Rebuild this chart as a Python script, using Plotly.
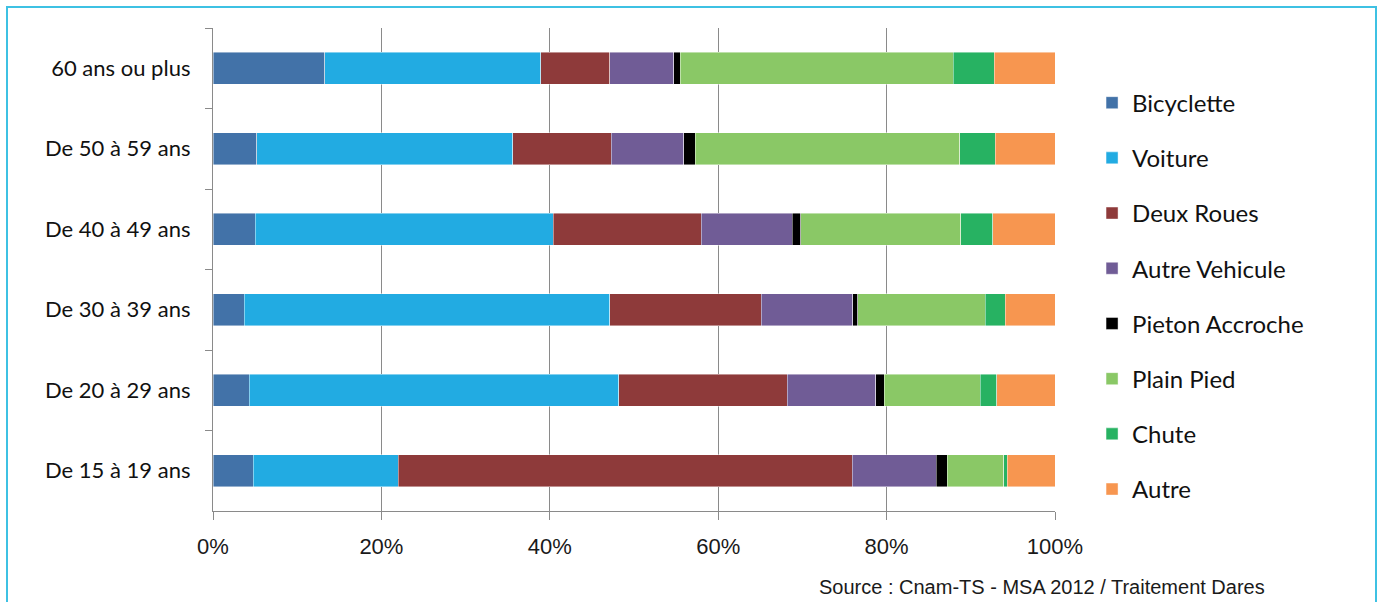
import plotly.graph_objects as go

# Age groups, listed top to bottom as drawn
age_groups = [
    "60 ans ou plus",
    "De 50 à 59 ans",
    "De 40 à 49 ans",
    "De 30 à 39 ans",
    "De 20 à 29 ans",
    "De 15 à 19 ans",
]

# Share of each accident type per age group (%)
bicyclette = [13.3, 5.2, 5.0, 3.7, 4.3, 4.8]
voiture = [25.6, 30.4, 35.4, 43.4, 43.9, 17.2]
deux_roues = [8.2, 11.7, 17.6, 18.0, 20.0, 53.9]
autre_vehicule = [7.6, 8.6, 10.8, 10.9, 10.5, 10.0]
pieton_accroche = [0.8, 1.4, 1.0, 0.6, 1.0, 1.3]
plain_pied = [32.4, 31.4, 19.0, 15.1, 11.4, 6.7]
chute = [4.9, 4.2, 3.8, 2.4, 2.0, 0.4]
autre = [7.2, 7.1, 7.4, 5.9, 6.9, 5.7]

series = [
    ("Bicyclette", bicyclette, "#4272A8"),
    ("Voiture", voiture, "#22ABE2"),
    ("Deux Roues", deux_roues, "#8E3A3A"),
    ("Autre Vehicule", autre_vehicule, "#705C96"),
    ("Pieton Accroche", pieton_accroche, "#000000"),
    ("Plain Pied", plain_pied, "#8AC866"),
    ("Chute", chute, "#27B262"),
    ("Autre", autre, "#F79650"),
]

x_ticks = [0, 0.2, 0.4, 0.6, 0.8, 1.0]
x_tick_labels = ["0%", "20%", "40%", "60%", "80%", "100%"]

fig = go.Figure()
for name, values, color in series:
    fig.add_trace(go.Bar(
        y=age_groups,
        x=[v / 100 for v in values],
        name=name,
        orientation="h",
        legendgroup=name,
        marker=dict(color=color, line=dict(color="rgba(255,255,255,0.55)", width=0.8)),
    ))

GRID = "#8A8A8A"
LABEL_FONT = "Lato, Carlito, Calibri, sans-serif"
ARIAL = "Liberation Sans, Arial, sans-serif"

fig.update_layout(
    width=1381,
    height=602,
    barmode="stack",
    bargap=0.6,
    plot_bgcolor="white",
    paper_bgcolor="white",
    margin=dict(l=213, r=326, t=28, b=91),
    xaxis=dict(
        range=[0, 1],
        tickvals=x_ticks,
        ticktext=x_tick_labels,
        showgrid=True,
        gridcolor=GRID,
        gridwidth=1.3,
        showline=True,
        linecolor=GRID,
        linewidth=1.3,
        ticks="outside",
        ticklen=8,
        tickcolor=GRID,
        tickwidth=1.3,
        ticklabelstandoff=7,
        zeroline=False,
        tickfont=dict(family=ARIAL, size=22, color="#1a1a1a"),
        fixedrange=True,
    ),
    yaxis=dict(
        categoryorder="array",
        categoryarray=age_groups,
        autorange="reversed",
        showgrid=False,
        showline=True,
        linecolor=GRID,
        linewidth=1.3,
        ticks="outside",
        tickson="boundaries",
        ticklen=7,
        tickcolor=GRID,
        tickwidth=1.3,
        ticklabelstandoff=17,
        tickfont=dict(family=LABEL_FONT, size=22, color="#111111"),
        fixedrange=True,
    ),
    legend=dict(
        x=1.044,
        xanchor="left",
        y=0.445,
        yanchor="middle",
        traceorder="grouped",
        tracegroupgap=21,
        font=dict(family=LABEL_FONT, size=24, color="#111111"),
        bgcolor="rgba(0,0,0,0)",
    ),
    showlegend=True,
    annotations=[
        dict(
            text="Source : Cnam-TS - MSA 2012 / Traitement Dares",
            xref="paper",
            yref="paper",
            x=1.2518,
            y=-0.157,
            xanchor="right",
            yanchor="middle",
            showarrow=False,
            font=dict(family=ARIAL, size=20, color="#1a1a1a"),
        )
    ],
    shapes=[
        # light blue frame around the whole chart
        dict(
            type="rect",
            xref="paper",
            yref="paper",
            x0=(7 - 213) / 842,
            x1=(1376 - 213) / 842,
            y0=(511 - 640) / 483,
            y1=(511 - 7) / 483,
            line=dict(color="#3EC1E3", width=2),
            fillcolor="rgba(0,0,0,0)",
            layer="below",
        )
    ],
)

fig.write_html("out.html", config={"displayModeBar": False})
